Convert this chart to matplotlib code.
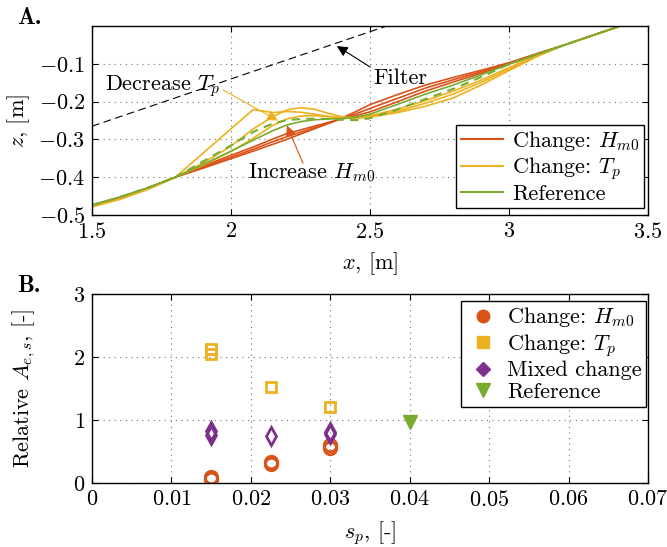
import matplotlib

matplotlib.use("Agg")
import matplotlib.pyplot as plt
from matplotlib.lines import Line2D
from matplotlib.ticker import FuncFormatter


# Panel A: bed profiles
X_PROFILE = [1.5, 1.6, 1.7, 1.8, 1.9, 2.0, 2.08, 2.15, 2.2, 2.25, 2.3, 2.35,
             2.4, 2.45, 2.5, 2.6, 2.7, 2.8, 2.9, 3.0, 3.1, 3.2, 3.3, 3.4]
Z_HM0 = [
    [-0.476, -0.455, -0.429, -0.400, -0.370, -0.342, -0.320, -0.299, -0.285, -0.275, -0.265, -0.255,
     -0.246, -0.237, -0.227, -0.200, -0.172, -0.148, -0.125, -0.100, -0.075, -0.050, -0.025, 0.0],
    [-0.476, -0.455, -0.429, -0.400, -0.373, -0.347, -0.326, -0.306, -0.293, -0.281, -0.269, -0.257,
     -0.245, -0.232, -0.218, -0.191, -0.164, -0.142, -0.121, -0.099, -0.074, -0.050, -0.025, 0.0],
    [-0.476, -0.455, -0.429, -0.400, -0.376, -0.351, -0.331, -0.313, -0.300, -0.286, -0.272, -0.258,
     -0.243, -0.226, -0.208, -0.181, -0.156, -0.136, -0.117, -0.097, -0.073, -0.050, -0.025, 0.0],
]
Z_TP = [
    [-0.478, -0.458, -0.432, -0.400, -0.336, -0.272, -0.221, -0.229, -0.226, -0.228, -0.233, -0.239,
     -0.243, -0.244, -0.241, -0.229, -0.212, -0.190, -0.156, -0.118, -0.081, -0.050, -0.025, 0.0],
    [-0.478, -0.458, -0.432, -0.400, -0.362, -0.318, -0.272, -0.240, -0.222, -0.216, -0.220, -0.231,
     -0.240, -0.243, -0.239, -0.225, -0.204, -0.180, -0.149, -0.114, -0.079, -0.050, -0.025, 0.0],
    [-0.478, -0.458, -0.432, -0.400, -0.368, -0.332, -0.297, -0.263, -0.246, -0.238, -0.237, -0.240,
     -0.243, -0.242, -0.237, -0.220, -0.197, -0.172, -0.143, -0.110, -0.077, -0.050, -0.025, 0.0],
]
Z_REF = [-0.473, -0.452, -0.428, -0.400, -0.366, -0.331, -0.302, -0.277, -0.262, -0.253, -0.248, -0.246,
         -0.245, -0.241, -0.233, -0.207, -0.180, -0.156, -0.129, -0.101, -0.075, -0.050, -0.025, 0.0]
Z_REF_DASHED = [-0.474, -0.453, -0.428, -0.400, -0.358, -0.316, -0.280, -0.258, -0.249, -0.246, -0.245, -0.246,
                -0.248, -0.249, -0.244, -0.220, -0.193, -0.166, -0.135, -0.101, -0.075, -0.050, -0.025, 0.0]
X_FILTER = [1.5, 2.56]
Z_FILTER = [-0.265, 0.0]

# Panel B: relative erosion area vs wave steepness
SP_HM0 = [0.015, 0.015, 0.0225, 0.0225, 0.030, 0.030]
REL_HM0 = [0.07, 0.09, 0.30, 0.34, 0.56, 0.61]
SP_TP = [0.015, 0.015, 0.0225, 0.030]
REL_TP = [2.05, 2.12, 1.53, 1.21]
SP_MIX = [0.015, 0.015, 0.0225, 0.030, 0.030]
REL_MIX = [0.76, 0.83, 0.74, 0.77, 0.81]
SP_REF = [0.040]
REL_REF = [0.97]

RED = "#D95319"
YELLOW = "#EDB120"
GREEN = "#77AC30"
PURPLE = "#7E2F8E"
FS = 16

plt.rcParams["font.family"] = "serif"
plt.rcParams["font.serif"] = ["cmr10"]
plt.rcParams["mathtext.fontset"] = "cm"
plt.rcParams["axes.formatter.use_mathtext"] = True
plt.rcParams["font.size"] = FS


def style_axes(ax):
    ax.tick_params(direction="in", top=True, right=True, length=4, width=0.8, labelsize=FS, pad=5)
    ax.grid(True, linestyle=(0, (1, 4)), color="0.45", linewidth=0.8)
    for spine in ax.spines.values():
        spine.set_linewidth(1.0)
    ax.xaxis.set_major_formatter(FuncFormatter(lambda v, p: f"${v:g}$"))
    ax.yaxis.set_major_formatter(FuncFormatter(lambda v, p: f"${v:g}$"))


def plot_profiles(ax):
    ax.plot(X_FILTER, Z_FILTER, color="k", linestyle=(0, (7, 4)), linewidth=0.8)
    for z in Z_HM0:
        ax.plot(X_PROFILE, z, color=RED, linewidth=1.2)
    for z in Z_TP:
        ax.plot(X_PROFILE, z, color=YELLOW, linewidth=1.2)
    ax.plot(X_PROFILE, Z_REF, color=GREEN, linewidth=1.2)
    ax.plot(X_PROFILE, Z_REF_DASHED, color=GREEN, linewidth=1.5, linestyle=(0, (4, 3)))

    ax.annotate("Filter", xy=(2.381, -0.053), xytext=(2.511, -0.139), ha="left", va="center",
                fontsize=FS, arrowprops=dict(arrowstyle="-|>", color="k", lw=0.8,
                                             relpos=(0, 1), shrinkA=0, shrinkB=0))
    ax.annotate("Decrease $T_p$", xy=(2.169, -0.25), xytext=(1.547, -0.158), ha="left", va="center",
                fontsize=FS, arrowprops=dict(arrowstyle="-|>", color=YELLOW, lw=0.8,
                                             relpos=(1, 0.4), shrinkA=0, shrinkB=0))
    ax.annotate("", xy=(2.201, -0.263), xytext=(2.259, -0.363),
                arrowprops=dict(arrowstyle="-|>", color=RED, lw=0.8, shrinkA=0, shrinkB=0))
    ax.text(2.061, -0.389, "Increase $H_{m0}$", ha="left", va="center", fontsize=FS)

    ax.set_xlim(1.5, 3.5)
    ax.set_ylim(-0.5, 0.0)
    ax.set_xticks([1.5, 2, 2.5, 3, 3.5])
    ax.set_yticks([-0.5, -0.4, -0.3, -0.2, -0.1])
    style_axes(ax)
    ax.set_xlabel("$x$, [m]", fontsize=FS)
    ax.set_ylabel("$z$, [m]", fontsize=FS)
    ax.xaxis.set_label_coords(0.5, -0.186)
    ax.yaxis.set_label_coords(-0.108, 0.5)

    handles = [
        Line2D([], [], color=RED, lw=1.5),
        Line2D([], [], color=YELLOW, lw=1.5),
        Line2D([], [], color=GREEN, lw=1.5),
    ]
    labels = ["Change: $H_{m0}$", "Change: $T_p$", "Reference"]
    leg = ax.legend(handles, labels, loc="lower right", bbox_to_anchor=(0.993, 0.035), fontsize=FS,
                    fancybox=False, edgecolor="k", framealpha=1, borderpad=0.2, labelspacing=0.1,
                    handlelength=1.9, handletextpad=0.4, borderaxespad=0)
    leg.get_frame().set_linewidth(1.0)


def plot_steepness(ax):
    ax.plot(SP_HM0, REL_HM0, linestyle="none", marker="o", markersize=9, markerfacecolor="none",
            markeredgecolor=RED, markeredgewidth=2)
    ax.plot(SP_TP, REL_TP, linestyle="none", marker="s", markersize=7.5, markerfacecolor="none",
            markeredgecolor=YELLOW, markeredgewidth=2)
    ax.plot(SP_MIX, REL_MIX, linestyle="none", marker="d", markersize=9, markerfacecolor="none",
            markeredgecolor=PURPLE, markeredgewidth=2)
    ax.plot(SP_REF, REL_REF, linestyle="none", marker="v", markersize=10, color=GREEN)

    ax.set_xlim(0, 0.07)
    ax.set_ylim(0, 3)
    ax.set_xticks([0, 0.01, 0.02, 0.03, 0.04, 0.05, 0.06, 0.07])
    ax.set_yticks([0, 1, 2, 3])
    style_axes(ax)
    ax.set_xlabel("$s_p$, [-]", fontsize=FS)
    ax.set_ylabel("Relative $A_{e,s}$, [-]", fontsize=FS)
    ax.xaxis.set_label_coords(0.5, -0.19)
    ax.yaxis.set_label_coords(-0.097, 0.5)

    handles = [
        Line2D([], [], linestyle="none", marker="o", markersize=9, color=RED),
        Line2D([], [], linestyle="none", marker="s", markersize=8, color=YELLOW),
        Line2D([], [], linestyle="none", marker="D", markersize=7.5, color=PURPLE),
        Line2D([], [], linestyle="none", marker="v", markersize=10, color=GREEN),
    ]
    labels = ["Change: $H_{m0}$", "Change: $T_p$", "Mixed change", "Reference"]
    leg = ax.legend(handles, labels, loc="upper right", bbox_to_anchor=(0.997, 0.963), fontsize=FS,
                    fancybox=False, edgecolor="k", framealpha=1, borderpad=0.2, labelspacing=0.1,
                    handlelength=1.6, handletextpad=0.3, borderaxespad=0)
    leg.get_frame().set_linewidth(1.0)


def main() -> None:
    fig = plt.figure(figsize=(6.67, 5.47), dpi=100)
    ax_a = fig.add_axes([0.1379, 0.6069, 0.8336, 0.3455])
    ax_b = fig.add_axes([0.1379, 0.1170, 0.8336, 0.3455])
    plot_profiles(ax_a)
    plot_steepness(ax_b)
    fig.text(0.0255, 0.967, "A.", family="cmb10", fontsize=17, va="center")
    fig.text(0.0255, 0.477, "B.", family="cmb10", fontsize=17, va="center")
    fig.savefig("out.png", dpi=100)
    plt.close(fig)


if __name__ == "__main__":
    main()
